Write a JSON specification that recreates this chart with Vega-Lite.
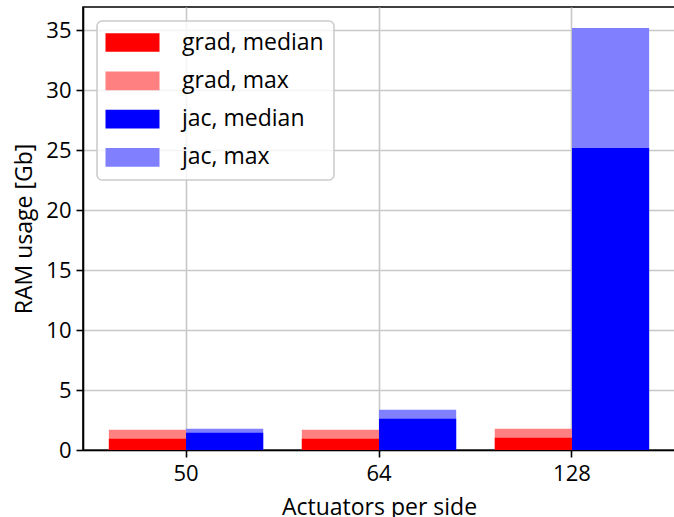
{
  "$schema": "https://vega.github.io/schema/vega-lite/v6.json",
  "width": 592,
  "height": 443,
  "autosize": {"type": "none"},
  "padding": {"left": 83, "top": 7, "right": 0, "bottom": 67},
  "background": "white",
  "title": {
    "text": "Memory usage",
    "anchor": "start",
    "frame": "group",
    "dx": 61,
    "offset": 8,
    "baseline": "alphabetic",
    "font": "Open Sans",
    "fontSize": 27,
    "fontWeight": "normal",
    "color": "black"
  },
  "data": {
    "values": [
      {"actuators": "50", "method": "grad", "series": "grad, max", "value": 1.69},
      {"actuators": "64", "method": "grad", "series": "grad, max", "value": 1.69},
      {"actuators": "128", "method": "grad", "series": "grad, max", "value": 1.78},
      {"actuators": "50", "method": "jac", "series": "jac, max", "value": 1.78},
      {"actuators": "64", "method": "jac", "series": "jac, max", "value": 3.36},
      {"actuators": "128", "method": "jac", "series": "jac, max", "value": 35.17},
      {"actuators": "50", "method": "grad", "series": "grad, median", "value": 0.94},
      {"actuators": "64", "method": "grad", "series": "grad, median", "value": 0.94},
      {"actuators": "128", "method": "grad", "series": "grad, median", "value": 1.03},
      {"actuators": "50", "method": "jac", "series": "jac, median", "value": 1.44},
      {"actuators": "64", "method": "jac", "series": "jac, median", "value": 2.61},
      {"actuators": "128", "method": "jac", "series": "jac, median", "value": 25.17}
    ]
  },
  "mark": {"type": "bar", "opacity": 1},
  "encoding": {
    "x": {
      "field": "actuators",
      "type": "nominal",
      "sort": ["50", "64", "128"],
      "scale": {"paddingInner": 0.2, "paddingOuter": 0.134},
      "axis": {
        "labelAngle": 0,
        "grid": true,
        "bandPosition": 0.5,
        "title": "Actuators per side",
        "labelPadding": 6,
        "titlePadding": 12
      }
    },
    "xOffset": {
      "field": "method",
      "type": "nominal",
      "sort": ["grad", "jac"],
      "scale": {"paddingInner": 0, "paddingOuter": 0}
    },
    "y": {
      "field": "value",
      "type": "quantitative",
      "stack": null,
      "scale": {"domain": [0, 36.92], "nice": false},
      "axis": {
        "values": [0, 5, 10, 15, 20, 25, 30, 35],
        "title": "RAM usage [Gb]",
        "labelPadding": 5,
        "titlePadding": 9
      }
    },
    "color": {
      "field": "series",
      "type": "nominal",
      "scale": {
        "domain": ["grad, median", "grad, max", "jac, median", "jac, max"],
        "range": ["#ff0000", "#ff8080", "#0000ff", "#8080ff"]
      },
      "legend": {
        "orient": "none",
        "legendX": 14,
        "legendY": 14,
        "title": null,
        "symbolType": "M-13.5,-4.675H13.5V4.675H-13.5Z",
        "symbolSize": 16,
        "symbolOffset": 14,
        "symbolStrokeWidth": 0,
        "symbolOpacity": 1,
        "labelFont": "Open Sans",
        "labelFontSize": 23,
        "labelColor": "black",
        "labelOffset": 38,
        "rowPadding": 14.3,
        "padding": 10,
        "strokeColor": "#cccccc",
        "fillColor": "rgba(255,255,255,0.8)",
        "cornerRadius": 5
      }
    }
  },
  "config": {
    "view": {"stroke": "black", "strokeWidth": 1.6},
    "axis": {
      "domainColor": "black",
      "domainWidth": 1.6,
      "tickColor": "black",
      "tickWidth": 1.6,
      "tickSize": 7,
      "gridColor": "#c8c8c8",
      "gridWidth": 1.6,
      "labelFont": "Open Sans",
      "labelFontSize": 22,
      "labelColor": "black",
      "titleFont": "Open Sans",
      "titleFontSize": 23,
      "titleFontWeight": "normal",
      "titleColor": "black"
    },
    "legend": {"strokeWidth": 1.6}
  }
}
